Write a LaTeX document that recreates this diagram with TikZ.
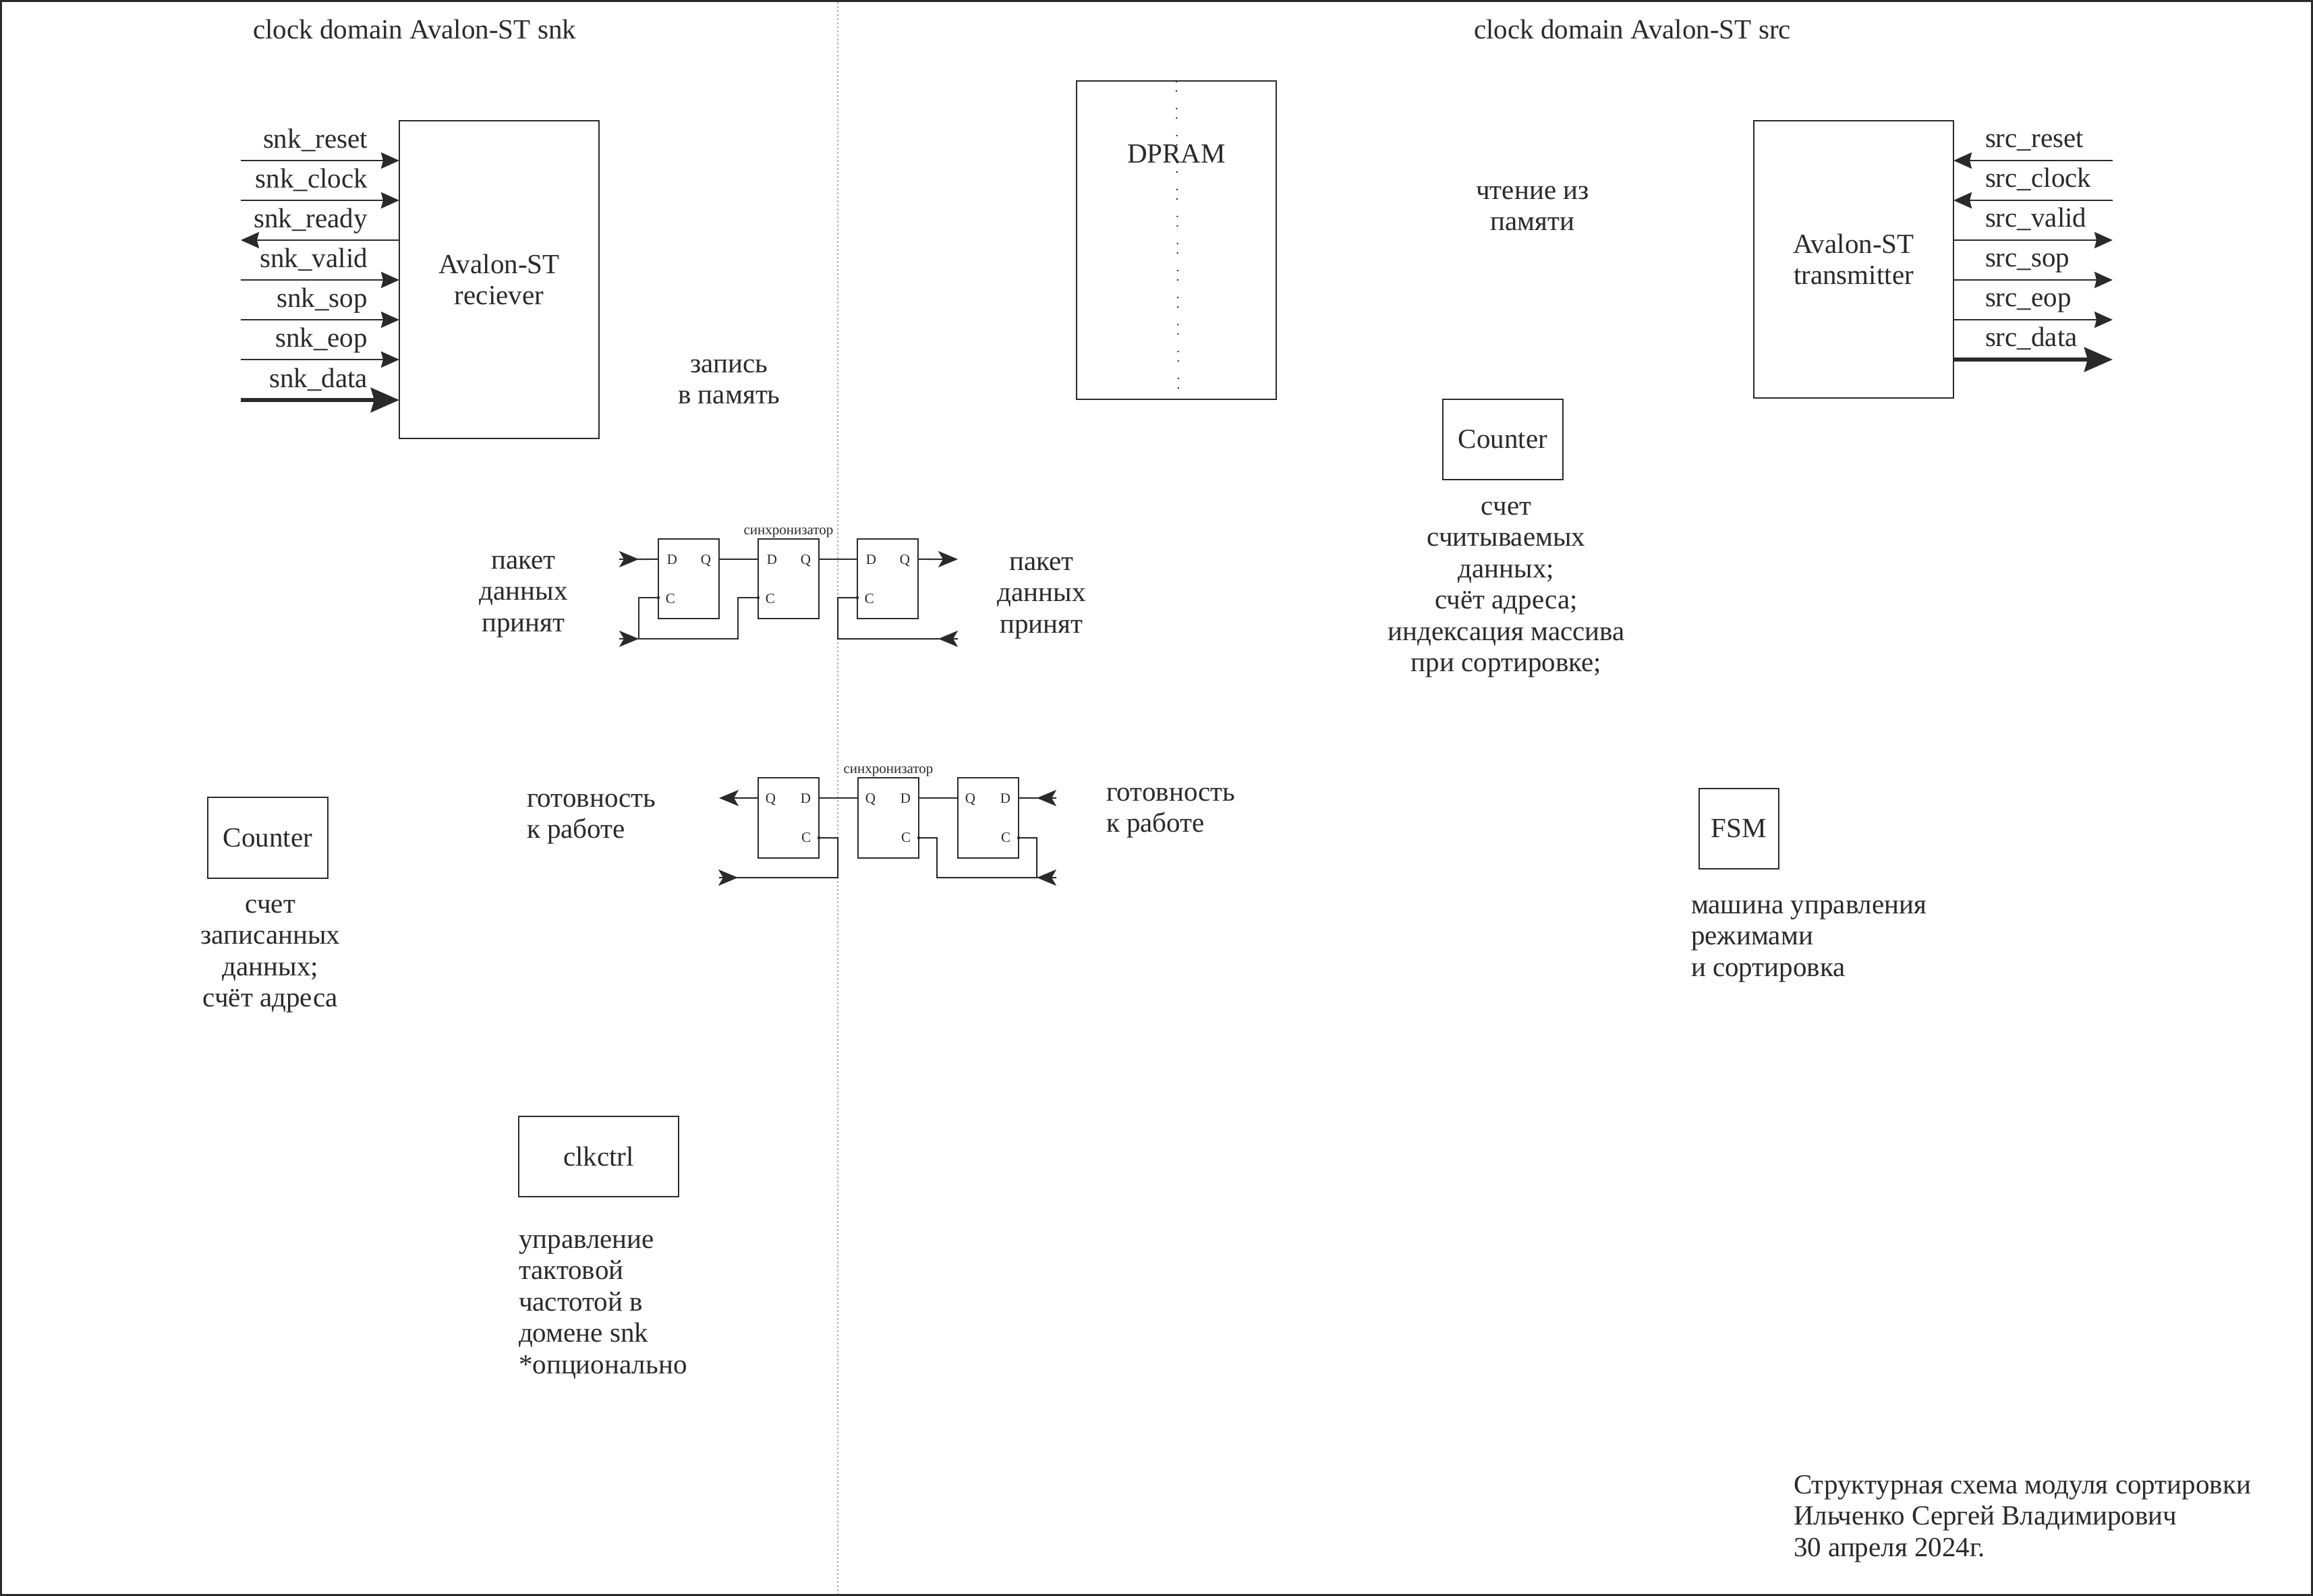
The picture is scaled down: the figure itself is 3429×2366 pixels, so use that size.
\documentclass[tikz,border=0pt]{standalone}
\usepackage{fontspec}
\setmainfont{Liberation Serif}
\usetikzlibrary{arrows.meta}
\definecolor{ink}{HTML}{2A2A2A}
\definecolor{divgray}{HTML}{B4B4B4}
\newcommand\mfs{\fontsize{11.67pt}{13.23pt}\selectfont}
\newcommand\sfs{\fontsize{5.97pt}{7pt}\selectfont}
\tikzset{
  blk/.style={draw=ink, line width=0.02cm, inner sep=0pt, outer sep=0pt, font=\mfs, text=ink, align=center},
  ffbox/.style={draw=ink, line width=0.02cm, inner sep=0pt, outer sep=0pt, minimum width=0.90cm, minimum height=1.18cm},
  txt/.style={inner sep=0pt, outer sep=0pt, font=\mfs, text=ink},
  tiny/.style={inner sep=0pt, outer sep=0pt, font=\sfs, text=ink},
  wire/.style={draw=ink, line width=0.02cm},
  sig/.style={wire, -{Stealth[length=0.27cm, width=0.24cm, inset=0.03cm]}},
  bus/.style={draw=ink, line width=0.065cm, -{Stealth[length=0.42cm, width=0.36cm, inset=0.05cm]}},
  ffhead/.style={wire, -{Stealth[length=0.29cm, width=0.24cm, inset=0.07cm]}},
  pindot/.style={circle, fill=ink, inner sep=0pt, minimum size=0.045cm},
}
\begin{document}
\begin{tikzpicture}[x=0.01cm, y=-0.01cm]
\useasboundingbox (0,0) rectangle (3429,2366);
\fill[white] (0,0) rectangle (3429,2366);
% frame and domain divider
\draw[draw=ink, line width=0.028cm] (1.5,1.5) rectangle (3427.5,2364.5);
\draw[divgray, line width=0.012cm, dash pattern=on 0.03cm off 0.03cm] (1242,3) -- (1242,2363);

% titles
\node[txt, anchor=base west] (tsnk) at (375,57) {clock domain Avalon-ST snk};
\node[txt, anchor=base west] (tsrc) at (2185,57) {clock domain Avalon-ST src};

% ---------------- receiver ----------------
\node[blk, minimum width=2.96cm, minimum height=4.71cm] (rx) at (740,414.5) {Avalon-ST\\reciever};
\foreach \y/\nm in {238/reset,297/clock,415/valid,474/sop,533/eop} {
  \coordinate (snk\nm) at (357,\y);
  \draw[sig] (snk\nm) -- (snk\nm -| rx.west);
  \node[txt, anchor=base east] (lsnk\nm) at (545,\y-19) {snk\_\nm};
}
\coordinate (snkready) at (357,356);
\draw[sig] (snkready -| rx.west) -- (snkready);
\node[txt, anchor=base east] (lsnkready) at (545,337) {snk\_ready};
\coordinate (snkdata) at (357,593);
\draw[bus] (snkdata) -- (snkdata -| rx.west);
\node[txt, anchor=base east] (lsnkdata) at (545,574) {snk\_data};

% ---------------- transmitter ----------------
\node[blk, minimum width=2.96cm, minimum height=4.11cm] (tx) at (2748,384.5) {Avalon-ST\\transmitter};
\foreach \y/\nm in {238/reset,297/clock} {
  \coordinate (src\nm) at (3132,\y);
  \draw[sig] (src\nm) -- (src\nm -| tx.east);
  \node[txt, anchor=base west] (lsrc\nm) at (2943,\y-19.5) {src\_\nm};
}
\foreach \y/\nm in {356/valid,415/sop,474/eop} {
  \coordinate (src\nm) at (3132,\y);
  \draw[sig] (src\nm -| tx.east) -- (src\nm);
  \node[txt, anchor=base west] (lsrc\nm) at (2943,\y-19.5) {src\_\nm};
}
\coordinate (srcdata) at (3132,533);
\draw[bus] (srcdata -| tx.east) -- (srcdata);
\node[txt, anchor=base west] (lsrcdata) at (2943,513.5) {src\_data};

% ---------------- DPRAM ----------------
\node[blk, minimum width=2.96cm, minimum height=4.72cm] (dpram) at (1744,356) {};
\draw[ink, line width=0.02cm, dash pattern=on 0.02cm off 0.12cm on 0.02cm off 0.24cm]
  (dpram.north) -- ([xshift=0.03cm]dpram.south);
\node[txt, anchor=base] (dpramlbl) at (1744,241) {DPRAM};

% ---------------- text labels ----------------
\node[txt, align=center, anchor=north] (wr) at (1081,519.5) {\strut запись\\в память};
\node[txt, align=center, anchor=north] (rd) at (2272,262.5) {\strut чтение из\\памяти};
\node[txt, align=center, anchor=north] (pktL) at (776,810.5) {\strut пакет\\данных\\принят};
\node[txt, align=center, anchor=north] (pktR) at (1544,812.5) {\strut пакет\\данных\\принят};
\node[txt, align=left, anchor=north west] (rdyL) at (781,1163.5) {\strut готовность\\к работе};
\node[txt, align=left, anchor=north west] (rdyR) at (1640,1154.5) {\strut готовность\\к работе};

% ---------------- counters, FSM, clkctrl ----------------
\node[blk, minimum width=1.78cm, minimum height=1.19cm] (cntr) at (2228,651.5) {Counter};
\node[txt, align=center, anchor=north] (cntrlbl) at (2233,730.5)
  {\strut счет\\считываемых\\данных;\\счёт адреса;\\индексация массива\\при сортировке;};
\node[blk, minimum width=1.78cm, minimum height=1.20cm] (cntl) at (397,1242) {Counter};
\node[txt, align=center, anchor=north] (cntllbl) at (401,1320.5)
  {\strut счет\\записанных\\данных;\\счёт адреса};
\node[blk, minimum width=1.18cm, minimum height=1.19cm] (fsm) at (2578,1228.5) {FSM};
\node[txt, align=left, anchor=north west] (fsmlbl) at (2507,1321.5)
  {\strut машина управления\\режимами\\и сортировка};
\node[blk, minimum width=2.37cm, minimum height=1.19cm] (clk) at (887.5,1714.5) {clkctrl};
\node[txt, align=left, anchor=north west] (clklbl) at (769,1817.5)
  {\strut управление\\тактовой\\частотой в\\домене snk\\{}*опционально};

% signature
\node[txt, align=left, anchor=north west] (sign) at (2659,2181.5)
  {\strut Структурная схема модуля сортировки\\Ильченко Сергей Владимирович\\30 апреля 2024г.};

% ---------------- synchronizer 1 (snk -> src) ----------------
\node[ffbox] (s1a) at (1021,858) {};
\node[ffbox] (s1b) at (1169,858) {};
\node[ffbox] (s1c) at (1316,858) {};
\node[tiny, anchor=base] (s1lbl) at (1169,792) {синхронизатор};
\foreach \f in {s1a,s1b,s1c} {
  \coordinate (\f D) at ([yshift=0.29cm]\f.west);
  \coordinate (\f Q) at ([yshift=0.29cm]\f.east);
  \coordinate (\f C) at ([yshift=-0.28cm]\f.west);
  \node[tiny, anchor=base west] (\f lD) at ([xshift=0.13cm,yshift=-0.07cm]\f D) {D};
  \node[tiny, anchor=base east] (\f lQ) at ([xshift=-0.12cm,yshift=-0.07cm]\f Q) {Q};
  \node[tiny, anchor=base west] (\f lC) at ([xshift=0.11cm,yshift=-0.08cm]\f C) {C};
  \node[pindot] (\f p) at (\f C) {};
}
\coordinate (s1in) at (918,829);
\coordinate (s1inT) at (947,829);
\coordinate (s1out) at (1420,829);
\coordinate (s1ck) at (918,947);
\coordinate (s1ckT) at (947,947);
\coordinate (s1ckM) at (1094,947);
\coordinate (s1ckR) at (1420,947);
\coordinate (s1ckRT) at (1391,947);
\draw[wire] (s1in) -- (s1aD);
\draw[ffhead] (s1in) -- (s1inT);
\draw[wire] (s1aQ) -- (s1bD);
\draw[wire] (s1bQ) -- (s1cD);
\draw[ffhead] (s1cQ) -- (s1out);
\draw[wire] (s1ck) -- (s1ckM) |- (s1bC);
\draw[wire] (s1ckT) |- (s1aC);
\draw[ffhead] (s1ck) -- (s1ckT);
\draw[wire] (s1cC) -- (1242,886) -- (1242,947) -- (s1ckR);
\draw[ffhead] (s1ckR) -- (s1ckRT);

% ---------------- synchronizer 2 (src -> snk) ----------------
\node[ffbox] (s2a) at (1169,1212.5) {};
\node[ffbox] (s2b) at (1317,1212.5) {};
\node[ffbox] (s2c) at (1465,1212.5) {};
\node[tiny, anchor=base] (s2lbl) at (1317,1146) {синхронизатор};
\foreach \f in {s2a,s2b,s2c} {
  \coordinate (\f Q) at ([yshift=0.295cm]\f.west);
  \coordinate (\f D) at ([yshift=0.295cm]\f.east);
  \coordinate (\f C) at ([yshift=-0.295cm]\f.east);
  \node[tiny, anchor=base west] (\f lQ) at ([xshift=0.11cm,yshift=-0.07cm]\f Q) {Q};
  \node[tiny, anchor=base east] (\f lD) at ([xshift=-0.12cm,yshift=-0.07cm]\f D) {D};
  \node[tiny, anchor=base east] (\f lC) at ([xshift=-0.12cm,yshift=-0.06cm]\f C) {C};
  \node[pindot] (\f p) at (\f C) {};
}
\coordinate (s2out) at (1066,1183);
\coordinate (s2in) at (1566,1183);
\coordinate (s2inT) at (1537,1183);
\coordinate (s2ckL) at (1066,1301);
\coordinate (s2ckLT) at (1094,1301);
\coordinate (s2ckR) at (1566,1301);
\coordinate (s2ckRT) at (1537,1301);
\draw[ffhead] (s2aQ) -- (s2out);
\draw[wire] (s2aD) -- (s2bQ);
\draw[wire] (s2bD) -- (s2cQ);
\draw[wire] (s2cD) -- (s2in);
\draw[ffhead] (s2in) -- (s2inT);
\draw[wire] (s2aC) -- (1242,1242) -- (1242,1301) -- (s2ckL);
\draw[ffhead] (s2ckL) -- (s2ckLT);
\draw[wire] (s2bC) -- (1389,1242) -- (1389,1301) -- (s2ckR);
\draw[wire] (s2cC) -- (1537,1242) -- (s2ckRT);
\draw[ffhead] (s2ckR) -- (s2ckRT);
\end{tikzpicture}
\end{document}
